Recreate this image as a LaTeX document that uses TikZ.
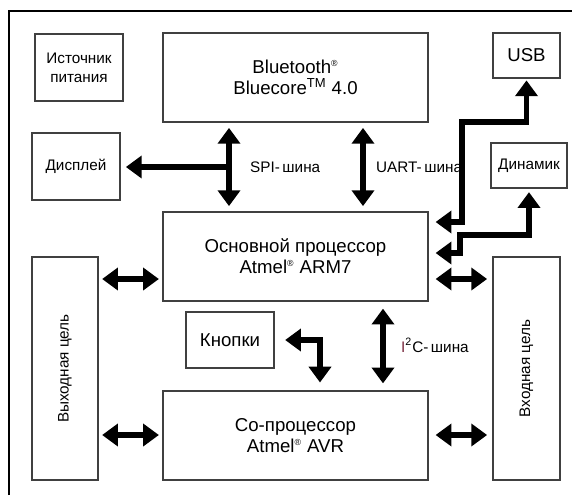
\documentclass[tikz,border=0pt]{standalone}
\usepackage{fontspec}
\setmainfont{Liberation Sans}
\usetikzlibrary{arrows.meta}
\definecolor{ictwo}{RGB}{120,40,60}
\begin{document}
\begin{tikzpicture}[x=0.02cm,y=-0.02cm]
	\tikzset{block/.style = {draw=black!75, line width=0.7pt, align=center, inner sep=1pt, font=\fontsize{10.6}{12}\selectfont}}
	\tikzset{small/.style = {font=\fontsize{8.7}{10.8}\selectfont}}
	\tikzset{head/.tip = {Triangle[width=12.5pt,length=9pt]}}
	\tikzset{bus/.style = {line width=3.1pt, head-head, shorten <=3pt, shorten >=3pt}}

	\useasboundingbox (0,0) rectangle (572,495);
	\draw[line width=0.8pt] (9,495) -- (9,11) -- (572,11);

	\node[block, small, minimum width=1.76cm, minimum height=1.34cm] (pwr) at (79,67.5) {Источник\\питания};
	\node[block, minimum width=5.3cm, minimum height=1.78cm] (bt) at (295.5,77.5) {Bluetooth\textsuperscript{\tiny ®}\\Bluecore\textsuperscript{TM} 4.0};
	\node[block, minimum width=1.34cm, minimum height=0.9cm] (usb) at (526.5,55.5) {USB};
	\node[block, small, minimum width=1.76cm, minimum height=1.34cm] (disp) at (76,166.5) {Дисплей};
	\node[block, small, minimum width=1.52cm, minimum height=0.9cm] (spk) at (529,165.5) {Динамик};
	\node[block, minimum width=5.3cm, minimum height=1.78cm] (cpu) at (295.5,256.5) {Основной процессор\\Atmel\textsuperscript{\tiny ®} ARM7};
	\node[block, small, minimum width=1.32cm, minimum height=4.46cm] (outc) at (65,368.5) {\rotatebox{90}{Выходная цель}};
	\node[block, minimum width=1.76cm, minimum height=1.12cm] (btn) at (230,340) {Кнопки};
	\node[block, minimum width=5.3cm, minimum height=1.78cm] (cop) at (295.5,435.5) {Со-процессор\\Atmel\textsuperscript{\tiny ®} AVR};
	\node[block, small, minimum width=1.34cm, minimum height=4.46cm] (inc) at (526.5,368.5) {\rotatebox{90}{Входная цель}};

	\node[small, anchor=west] (spi) at (244,167) {SPI-\,шина};
	\node[small, anchor=west] (uart) at (370,167) {UART-\,шина};
	\node[small, anchor=west] (i2c) at (395,345) {{\color{ictwo}I}\textsuperscript{2}C-\,шина};

	\coordinate (spix) at (229,167);
	\coordinate (uartx) at (363,167);
	\coordinate (i2cx) at (383,345);
	\coordinate (u1) at (462,122);
	\coordinate (u2) at (462,222);
	\coordinate (s1) at (460,235);
	\coordinate (s2) at (460,253);
	\coordinate (k1) at (320,340);
	\coordinate (rowA) at (0,279);
	\coordinate (rowB) at (0,435);

	\draw[bus] (spix |- bt.south) -- (spix |- cpu.north);
	\draw[bus, -head, shorten <=0pt] (spix) -- (spix -| disp.east);
	\draw[bus] (uartx |- bt.south) -- (uartx |- cpu.north);
	\draw[bus, shorten <=4pt, shorten >=4pt] (i2cx |- cpu.south) -- (i2cx |- cop.north);

	\draw[bus, shorten <=1pt, shorten >=4pt] (usb.south) |- (u1) -- (u2) -- (u2 -| cpu.east);
	\draw[bus, shorten <=2pt, shorten >=4pt] (spk.south) |- (s1) -- (s2) -- (s2 -| cpu.east);
	\draw[bus, shorten <=6pt, shorten >=4.5pt] (btn.east) -- (k1) -- (k1 |- cop.north);

	\draw[bus, shorten <=2pt, shorten >=2pt] (outc.east |- rowA) -- (cpu.west |- rowA);
	\draw[bus, shorten <=4pt, shorten >=3pt] (cpu.east |- rowA) -- (inc.west |- rowA);
	\draw[bus, shorten <=2pt, shorten >=2pt] (outc.east |- rowB) -- (cop.west |- rowB);
	\draw[bus, shorten <=4pt, shorten >=3pt] (cop.east |- rowB) -- (inc.west |- rowB);
\end{tikzpicture}
\end{document}
